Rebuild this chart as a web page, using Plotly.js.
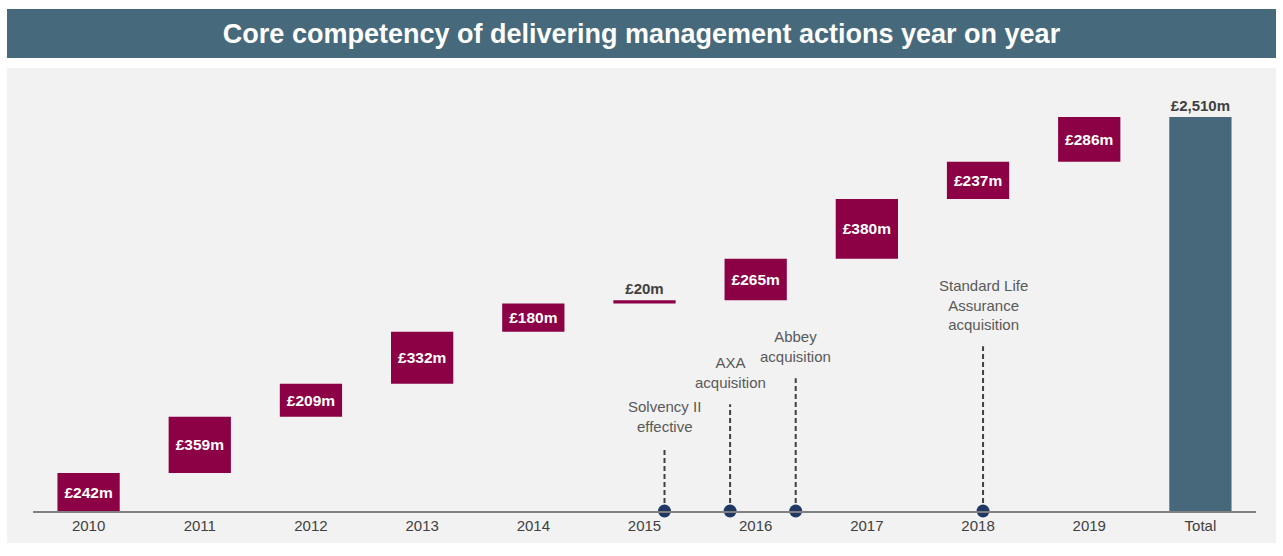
<!DOCTYPE html>
<html>
<head>
<meta charset="utf-8">
<script src="https://cdn.plot.ly/plotly-3.0.1.min.js"></script>
<style>html,body{margin:0;padding:0;background:#fff;}#chart{width:1283px;height:556px;}</style>
</head>
<body>
<div id="chart"></div>
<script>
// ---- data ----
const categories = ['2010','2011','2012','2013','2014','2015','2016','2017','2018','2019','Total'];
const increments = [242, 359, 209, 332, 180, 20, 265, 380, 237, 286];
const totalValue = 2510;

const eventNames = ['Solvency II<br>effective', 'AXA<br>acquisition', 'Abbey<br>acquisition', 'Standard Life<br>Assurance<br>acquisition'];
const eventPos = [5.18, 5.77, 6.36, 8.045];      // position on category axis
const eventLineTop = [400, 680, 845, 1050];      // height of dashed leader (value scale)

// ---- derived ----
const bases = [];
let run = 0;
increments.forEach(v => { bases.push(run); run += v; });
const barX = categories.map((c, i) => i);
const barVals = increments.concat([totalValue]);
const barBase = bases.concat([0]);
const barColors = increments.map(() => '#8C0046').concat(['#46687A']);
const barText = barVals.map(v => '£' + v.toLocaleString('en-GB') + 'm');
const textPos = barVals.map((v, i) => (i === categories.length - 1 || v < 60) ? 'outside' : 'inside');

const FONT = '"Liberation Sans", Arial, sans-serif';

const traces = [];
traces.push({
  type: 'bar',
  x: barX,
  y: barVals,
  base: barBase,
  width: 0.56,
  marker: {color: barColors, line: {width: 0}},
  text: barText,
  textposition: textPos,
  insidetextanchor: 'middle',
  insidetextfont: {family: FONT, size: 15.5, color: '#ffffff', weight: 'bold'},
  outsidetextfont: {family: FONT, size: 15, color: '#404040', weight: 'bold'},
  textfont: {family: FONT, size: 15, weight: 'bold'},
  cliponaxis: false,
  hoverinfo: 'skip',
  showlegend: false
});

eventPos.forEach((x, i) => {
  traces.push({
    type: 'scatter', mode: 'lines',
    x: [x, x], y: [0, eventLineTop[i]],
    line: {color: '#404040', width: 2, dash: '5px,3px'},
    hoverinfo: 'skip', showlegend: false
  });
});
traces.push({
  type: 'scatter', mode: 'markers',
  x: eventPos, y: eventPos.map(() => 0),
  marker: {color: '#1F3864', size: 13},
  cliponaxis: false, hoverinfo: 'skip', showlegend: false
});

const annotations = eventPos.map((x, i) => ({
  x: x, y: eventLineTop[i], xref: 'x', yref: 'y',
  text: eventNames[i], showarrow: false,
  yanchor: 'bottom', xanchor: 'center', yshift: 11,
  font: {family: FONT, size: 15, color: '#595959'}, align: 'center'
}));

// layout geometry (plot area: x 33..1256, y 68..511)
const L = 33, R = 27, T = 68, B = 45;
const pw = 1283 - L - R, ph = 556 - T - B;
const px = v => (v - L) / pw;
const py = v => (556 - B - v) / ph;

const layout = {
  width: 1283, height: 556,
  margin: {l: L, r: R, t: T, b: B, pad: 0},
  paper_bgcolor: '#ffffff',
  plot_bgcolor: 'rgba(0,0,0,0)',
  font: {family: FONT},
  title: {
    text: '<b>Core competency of delivering management actions year on year</b>',
    font: {family: FONT, size: 27, color: '#ffffff'},
    x: 0.5, xref: 'container', xanchor: 'center',
    y: 1 - 34 / 556, yref: 'container', yanchor: 'middle'
  },
  xaxis: {
    range: [-0.5, 10.5],
    tickmode: 'array', tickvals: barX, ticktext: categories,
    showgrid: false, zeroline: false,
    showline: true, linecolor: '#808080', linewidth: 2,
    ticks: '', tickfont: {family: FONT, size: 15, color: '#404040'},
    fixedrange: true
  },
  yaxis: {
    range: [0, 2822], visible: false, showgrid: false, zeroline: false, fixedrange: true
  },
  shapes: [
    {type: 'rect', xref: 'paper', yref: 'paper', layer: 'below',
     x0: px(7), x1: px(1276), y0: py(543), y1: py(68),
     fillcolor: '#F2F2F2', line: {width: 0}},
    {type: 'rect', xref: 'paper', yref: 'paper', layer: 'below',
     x0: px(7), x1: px(1276), y0: py(58), y1: py(9),
     fillcolor: '#46697C', line: {width: 0}}
  ],
  annotations: annotations,
  showlegend: false
};

Plotly.newPlot('chart', traces, layout, {displayModeBar: false, staticPlot: true});
</script>
</body>
</html>
